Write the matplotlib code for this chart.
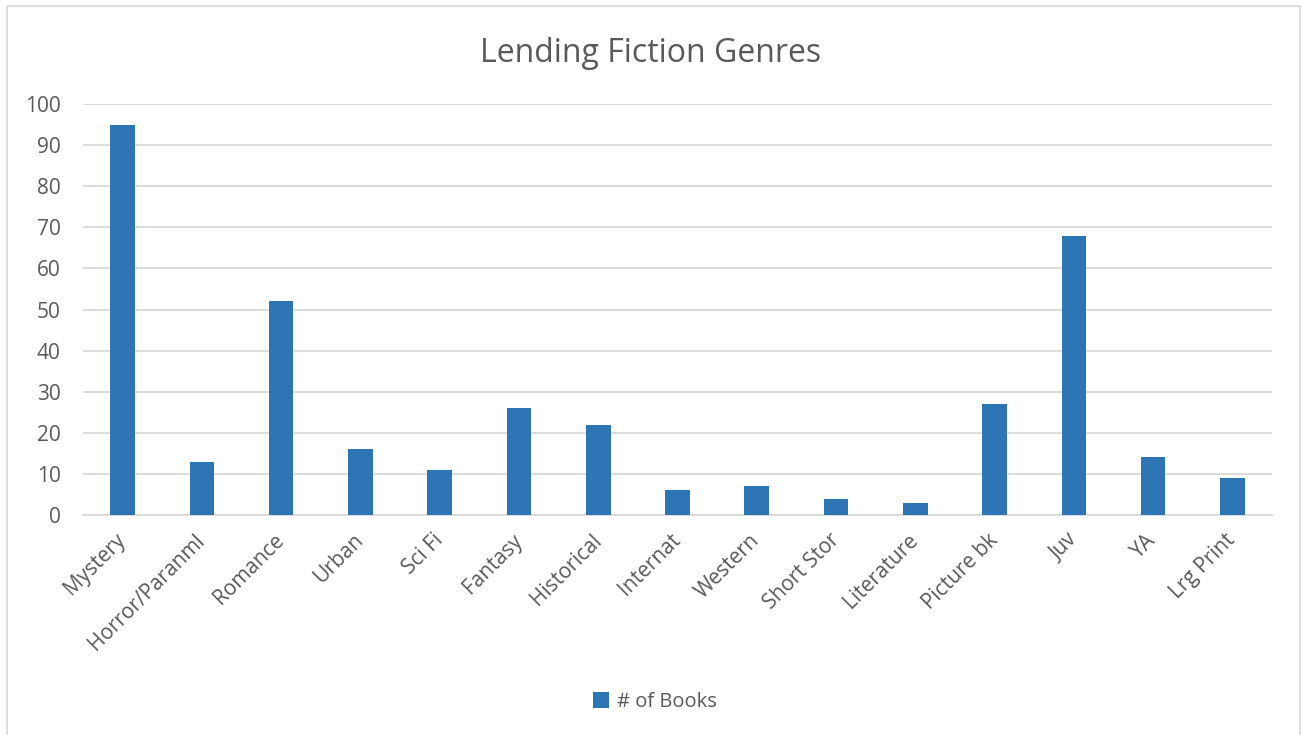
import matplotlib
matplotlib.use("Agg")
import matplotlib.pyplot as plt
from matplotlib.patches import Rectangle

genres = ["Mystery", "Horror/Paranml", "Romance", "Urban", "Sci Fi", "Fantasy",
          "Historical", "Internat", "Western", "Short Stor", "Literature",
          "Picture bk", "Juv", "YA", "Lrg Print"]
books = [95, 13, 52, 16, 11, 26, 22, 6, 7, 4, 3, 27, 68, 14, 9]
yticks = [0, 10, 20, 30, 40, 50, 60, 70, 80, 90, 100]

text_color = "#595959"
bar_color = "#2e75b6"
grid_color = "#d9d9d9"

plt.rcParams['font.family'] = ['Open Sans', 'DejaVu Sans']

fig = plt.figure(figsize=(13.02, 7.35), dpi=100)
fig.patches.append(Rectangle((7 / 1302, -0.01), 1293 / 1302, 1 - 6 / 735 + 0.01,
                             transform=fig.transFigure, fill=False,
                             edgecolor=grid_color, linewidth=1.2))

ax = fig.add_axes([83 / 1302, 1 - 515 / 735, (1272 - 83) / 1302, (515 - 104) / 735])
x = range(len(genres))
ax.bar(x, books, width=0.31, color=bar_color, label="# of Books", zorder=3)

ax.set_xlim(-0.5, len(genres) - 0.5)
ax.set_ylim(0, 100)
ax.set_yticks(yticks)
ax.yaxis.grid(True, color=grid_color, linewidth=1.3, zorder=0)
ax.set_xticks(list(x))
ax.set_xticklabels(genres, rotation=45, ha="right", va="center", rotation_mode="anchor")
ax.tick_params(axis="both", length=0, labelsize=15, colors=text_color)
ax.tick_params(axis="x", pad=16)
ax.tick_params(axis="y", pad=16)
for s in ["top", "right", "left"]:
    ax.spines[s].set_visible(False)
ax.spines["bottom"].set_color(grid_color)
ax.spines["bottom"].set_linewidth(1.3)

fig.text(0.5, 1 - 53 / 735, "Lending Fiction Genres", ha="center", va="center",
         fontsize=23, color=text_color)

fig.legend(loc="center", bbox_to_anchor=(655 / 1302, 1 - 702 / 735), frameon=False,
           fontsize=14.5, labelcolor=text_color, handlelength=0.8, handleheight=0.8,
           handletextpad=0.4)

fig.savefig("out.png", dpi=100)
